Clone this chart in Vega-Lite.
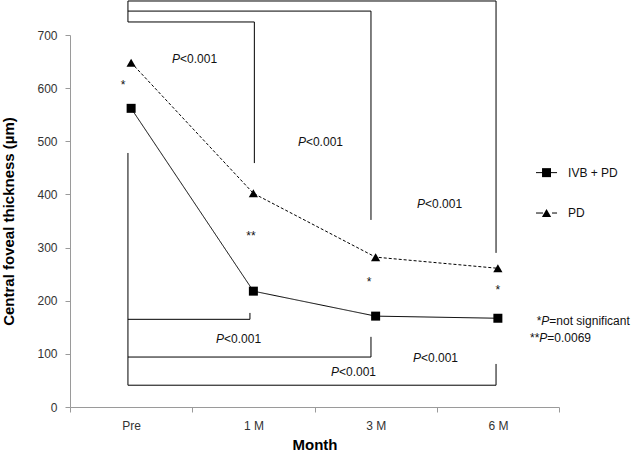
{
  "$schema": "https://vega.github.io/schema/vega-lite/v6.json",
  "width": 489,
  "height": 372,
  "autosize": {"type": "none"},
  "padding": {"left": 70, "top": 35, "right": 74, "bottom": 46},
  "background": "white",
  "config": {
    "view": {"stroke": null},
    "font": "Liberation Sans",
    "text": {"font": "Liberation Sans", "fontSize": 12, "fill": "#111111", "baseline": "alphabetic"}
  },
  "datasets": {
    "series": [
      {"month": "Pre", "group": "IVB + PD", "value": 562},
      {"month": "1 M", "group": "IVB + PD", "value": 218},
      {"month": "3 M", "group": "IVB + PD", "value": 171},
      {"month": "6 M", "group": "IVB + PD", "value": 167},
      {"month": "Pre", "group": "PD", "value": 648},
      {"month": "1 M", "group": "PD", "value": 402},
      {"month": "3 M", "group": "PD", "value": 282},
      {"month": "6 M", "group": "PD", "value": 261}
    ],
    "brackets": [
      {"x": 0.474, "x2": 3.485, "value": 764, "value2": 764},
      {"x": 0.474, "x2": 2.462, "value": 745, "value2": 745},
      {"x": 0.474, "x2": 1.508, "value": 724.5, "value2": 724.5},
      {"x": 0.474, "x2": 0.474, "value": 764, "value2": 724.5},
      {"x": 3.485, "x2": 3.485, "value": 764, "value2": 290},
      {"x": 2.462, "x2": 2.462, "value": 745, "value2": 352},
      {"x": 1.508, "x2": 1.508, "value": 724.5, "value2": 459},
      {"x": 0.474, "x2": 0.474, "value": 478, "value2": 41},
      {"x": 0.474, "x2": 1.472, "value": 165, "value2": 165},
      {"x": 1.472, "x2": 1.472, "value": 177, "value2": 165},
      {"x": 0.474, "x2": 2.462, "value": 94, "value2": 94},
      {"x": 2.462, "x2": 2.462, "value": 132, "value2": 94},
      {"x": 0.474, "x2": 3.485, "value": 41, "value2": 41},
      {"x": 3.485, "x2": 3.485, "value": 81, "value2": 41}
    ],
    "legendItems": [
      {"group": "IVB + PD", "x": 3.812, "x2": 3.984, "xm": 3.898, "value": 441},
      {"group": "PD", "x": 3.812, "x2": 3.984, "xm": 3.898, "value": 365}
    ],
    "italicP": [
      {"x": 0.900, "value": 647},
      {"x": 1.930, "value": 491},
      {"x": 2.904, "value": 375},
      {"x": 1.260, "value": 121},
      {"x": 2.200, "value": 59},
      {"x": 2.871, "value": 85},
      {"x": 3.921, "value": 155},
      {"x": 3.904, "value": 122}
    ],
    "textLeft": [
      {"x": 0.900, "value": 647, "label": "<0.001"},
      {"x": 1.930, "value": 491, "label": "<0.001"},
      {"x": 2.904, "value": 375, "label": "<0.001"},
      {"x": 1.260, "value": 121, "label": "<0.001"},
      {"x": 2.200, "value": 59, "label": "<0.001"},
      {"x": 2.871, "value": 85, "label": "<0.001"},
      {"x": 3.921, "value": 155, "label": "=not significant"},
      {"x": 3.904, "value": 122, "label": "=0.0069"},
      {"x": 4.074, "value": 433, "label": "IVB + PD"},
      {"x": 4.074, "value": 358, "label": "PD"}
    ],
    "textRight": [
      {"x": 3.856, "value": 155, "label": "*"},
      {"x": 3.839, "value": 122, "label": "**"}
    ],
    "stars": [
      {"x": 0.434, "value": 599, "label": "*"},
      {"x": 1.48, "value": 315, "label": "**"},
      {"x": 2.446, "value": 227, "label": "*"},
      {"x": 3.50, "value": 212, "label": "*"}
    ]
  },
  "layer": [
    {
      "data": {"name": "series"},
      "encoding": {
        "x": {
          "field": "month", "type": "nominal", "sort": ["Pre", "1 M", "3 M", "6 M"],
          "scale": {"type": "band", "paddingInner": 0, "paddingOuter": 0},
          "axis": {
            "title": "Month", "labelAngle": 0, "tickBand": "extent",
            "domainColor": "#9a9a9a", "tickColor": "#9a9a9a", "tickSize": 5,
            "labelFont": "Liberation Sans", "labelFontSize": 12, "labelColor": "#333333", "labelPadding": 8,
            "titleFont": "Liberation Sans", "titleFontSize": 15, "titleFontWeight": "bold", "titleColor": "#000000", "titlePadding": 6,
            "grid": false
          }
        },
        "y": {
          "field": "value", "type": "quantitative",
          "scale": {"domain": [0, 700], "nice": false, "zero": true},
          "title": "Central foveal thickness (µm)",
          "axis": {
            "values": [0, 100, 200, 300, 400, 500, 600, 700],
            "domainColor": "#9a9a9a", "tickColor": "#9a9a9a", "tickSize": 5,
            "labelFont": "Liberation Sans", "labelFontSize": 12, "labelColor": "#333333", "labelPadding": 8,
            "titleFont": "Liberation Sans", "titleFontSize": 15, "titleFontWeight": "bold", "titleColor": "#000000", "titlePadding": 20,
            "grid": false
          }
        }
      },
      "layer": [
        {
          "mark": {"type": "line", "color": "black", "strokeWidth": 1},
          "encoding": {
            "detail": {"field": "group"},
            "strokeDash": {"field": "group", "type": "nominal", "scale": {"domain": ["IVB + PD", "PD"], "range": [[1, 0], [3, 2]]}, "legend": null}
          }
        },
        {
          "mark": {"type": "point", "filled": true, "color": "black", "opacity": 1},
          "encoding": {
            "shape": {"field": "group", "type": "nominal", "scale": {"domain": ["IVB + PD", "PD"], "range": ["square", "triangle-up"]}, "legend": null},
            "size": {"field": "group", "type": "nominal", "scale": {"domain": ["IVB + PD", "PD"], "range": [81, 85]}, "legend": null}
          }
        }
      ]
    },
    {
      "data": {"name": "brackets"},
      "mark": {"type": "rule", "color": "black", "strokeWidth": 1},
      "encoding": {
        "x": {"field": "x", "type": "quantitative", "scale": {"domain": [0, 4], "nice": false, "zero": false}, "axis": null},
        "x2": {"field": "x2"},
        "y": {"field": "value", "type": "quantitative", "scale": {"domain": [0, 700], "nice": false}, "title": "Central foveal thickness (µm)"},
        "y2": {"field": "value2"}
      }
    },
    {
      "data": {"name": "legendItems"},
      "encoding": {
        "y": {"field": "value", "type": "quantitative", "scale": {"domain": [0, 700], "nice": false}, "title": "Central foveal thickness (µm)"}
      },
      "layer": [
        {
          "mark": {"type": "rule", "color": "black", "strokeWidth": 1},
          "encoding": {
            "x": {"field": "x", "type": "quantitative", "scale": {"domain": [0, 4], "nice": false, "zero": false}, "axis": null},
            "x2": {"field": "x2"},
            "strokeDash": {"field": "group", "type": "nominal", "scale": {"domain": ["IVB + PD", "PD"], "range": [[1, 0], [7, 9]]}, "legend": null}
          }
        },
        {
          "mark": {"type": "point", "filled": true, "color": "black", "opacity": 1},
          "encoding": {
            "x": {"field": "xm", "type": "quantitative", "scale": {"domain": [0, 4], "nice": false, "zero": false}, "axis": null},
            "shape": {"field": "group", "type": "nominal", "scale": {"domain": ["IVB + PD", "PD"], "range": ["square", "triangle-up"]}, "legend": null},
            "size": {"field": "group", "type": "nominal", "scale": {"domain": ["IVB + PD", "PD"], "range": [81, 85]}, "legend": null}
          }
        }
      ]
    },
    {
      "data": {"name": "italicP"},
      "mark": {"type": "text", "align": "right", "fontStyle": "italic", "text": "P"},
      "encoding": {
        "x": {"field": "x", "type": "quantitative", "scale": {"domain": [0, 4], "nice": false, "zero": false}, "axis": null},
        "y": {"field": "value", "type": "quantitative", "scale": {"domain": [0, 700], "nice": false}, "title": "Central foveal thickness (µm)"}
      }
    },
    {
      "data": {"name": "textLeft"},
      "mark": {"type": "text", "align": "left"},
      "encoding": {
        "x": {"field": "x", "type": "quantitative", "scale": {"domain": [0, 4], "nice": false, "zero": false}, "axis": null},
        "y": {"field": "value", "type": "quantitative", "scale": {"domain": [0, 700], "nice": false}, "title": "Central foveal thickness (µm)"},
        "text": {"field": "label"}
      }
    },
    {
      "data": {"name": "textRight"},
      "mark": {"type": "text", "align": "right"},
      "encoding": {
        "x": {"field": "x", "type": "quantitative", "scale": {"domain": [0, 4], "nice": false, "zero": false}, "axis": null},
        "y": {"field": "value", "type": "quantitative", "scale": {"domain": [0, 700], "nice": false}, "title": "Central foveal thickness (µm)"},
        "text": {"field": "label"}
      }
    },
    {
      "data": {"name": "stars"},
      "mark": {"type": "text", "align": "center"},
      "encoding": {
        "x": {"field": "x", "type": "quantitative", "scale": {"domain": [0, 4], "nice": false, "zero": false}, "axis": null},
        "y": {"field": "value", "type": "quantitative", "scale": {"domain": [0, 700], "nice": false}, "title": "Central foveal thickness (µm)"},
        "text": {"field": "label"}
      }
    }
  ],
  "resolve": {"scale": {"x": "independent", "strokeDash": "independent"}}
}
